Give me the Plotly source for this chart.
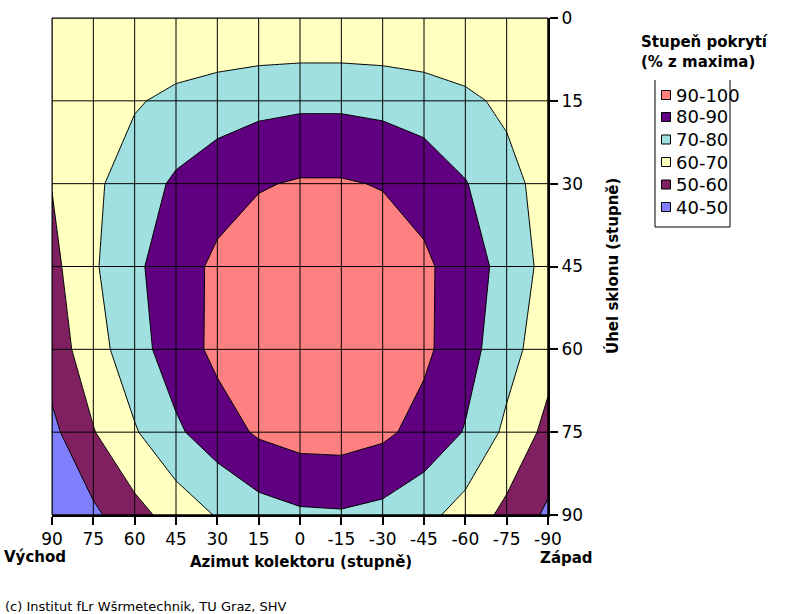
import plotly.graph_objects as go

# ---- data ----
azimuth = [90, 75, 60, 45, 30, 15, 0, -15, -30, -45, -60, -75, -90]
tilt = [0, 15, 30, 45, 60, 75, 90]

cov_t0 = [60.5, 60.5, 60.5, 60.5, 60.5, 60.5, 60.5, 60.5, 60.5, 60.5, 60.5, 60.5, 60.5]
cov_t15 = [62.5, 66.0, 69.0, 72.5, 75.0, 77.0, 78.0, 78.0, 77.0, 75.0, 72.0, 68.0, 64.0]
cov_t30 = [60.3, 68.0, 75.2, 81.5, 85.9, 89.2, 90.9, 90.9, 89.4, 86.2, 80.5, 73.3, 66.0]
cov_t45 = [57.3, 68.7, 78.2, 85.5, 92.0, 96.0, 98.0, 98.0, 96.0, 91.8, 85.0, 76.5, 66.7]
cov_t60 = [54.8, 65.7, 76.2, 85.0, 92.4, 97.3, 99.6, 99.5, 97.0, 92.0, 83.8, 74.1, 63.7]
cov_t75 = [47.6, 59.5, 69.1, 78.4, 85.4, 91.3, 94.0, 94.3, 92.0, 86.5, 79.4, 67.8, 57.2]
cov_t90 = [42.0, 48.0, 56.7, 64.1, 70.7, 75.7, 78.4, 78.9, 77.1, 73.0, 65.9, 57.4, 48.2]

x_tick_labels = ["90", "75", "60", "45", "30", "15", "0", "-15", "-30", "-45", "-60", "-75", "-90"]
y_tick_labels = ["0", "15", "30", "45", "60", "75", "90"]

legend_labels = ["90-100", "80-90", "70-80", "60-70", "50-60", "40-50"]
band_colors = ["#FF8080", "#600080", "#A0E0E0", "#FFFFC0", "#802060", "#8080FF"]
levels_start, levels_end, levels_size = 40, 100, 10

# ---- figure ----
W, H = 803, 614
L, R, T, B = 52, 548, 18, 515  # plot area in pixels
FONT = "DejaVu Sans"


def px(x):
    return (x - L) / (R - L)


def py(y):
    return (B - y) / (B - T)


z = [cov_t0, cov_t15, cov_t30, cov_t45, cov_t60, cov_t75, cov_t90]

# stepped colour scale: bands (below 40, 40-50, ..., 90-100, above 100)
asc = list(reversed(band_colors))
band_list = [asc[0]] + asc + [asc[-1]]
n = len(band_list)
cs = []
for i, c in enumerate(band_list):
    lo = max(0.0, (2 * i - 1) / (2 * (n - 1)))
    hi = min(1.0, (2 * i + 1) / (2 * (n - 1)))
    cs.append([lo, c])
    cs.append([hi, c])

fig = go.Figure()
fig.add_trace(go.Contour(
    x=azimuth, y=tilt, z=z,
    contours=dict(start=levels_start, end=levels_end, size=levels_size,
                  coloring="fill", showlines=True),
    line=dict(color="black", width=1, smoothing=0),
    colorscale=cs, showscale=False, hoverinfo="skip",
))

shapes = []
for a in azimuth:
    shapes.append(dict(type="line", xref="x", yref="paper", x0=a, x1=a, y0=0, y1=1,
                       line=dict(color="black", width=1), layer="above"))
for t in tilt:
    shapes.append(dict(type="line", xref="paper", yref="y", x0=0, x1=1, y0=t, y1=t,
                       line=dict(color="black", width=1), layer="above"))

# legend (manual)
leg_y = [95, 117, 139.5, 162, 184.5, 207]
for lab, col, yy in zip(legend_labels, band_colors, leg_y):
    shapes.append(dict(type="rect", xref="paper", yref="paper",
                       x0=px(661.5), x1=px(670.5), y0=py(yy + 4.5), y1=py(yy - 4.5),
                       fillcolor=col, line=dict(color="black", width=1)))
shapes.append(dict(type="line", xref="paper", yref="paper", x0=px(655), x1=px(655),
                   y0=py(80), y1=py(227), line=dict(color="black", width=1)))
shapes.append(dict(type="line", xref="paper", yref="paper", x0=px(730), x1=px(730),
                   y0=py(80), y1=py(227), line=dict(color="black", width=1)))
shapes.append(dict(type="line", xref="paper", yref="paper", x0=px(655), x1=px(730),
                   y0=py(227), y1=py(227), line=dict(color="black", width=1)))

annotations = []
for lab, yy in zip(legend_labels, leg_y):
    annotations.append(dict(text=lab, xref="paper", yref="paper", x=px(674), y=py(yy),
                            xanchor="left", yanchor="middle", showarrow=False,
                            font=dict(family=FONT, size=18, color="black")))

annotations += [
    dict(text="<b>Stupeň pokrytí<br>(% z maxima)</b>", xref="paper", yref="paper",
         x=px(639), y=py(52), xanchor="left", yanchor="middle", align="left",
         showarrow=False, font=dict(family=FONT, size=15, color="black")),
    dict(text="<b>Azimut kolektoru (stupně)</b>", xref="paper", yref="paper",
         x=px(301), y=py(562), xanchor="center", yanchor="middle", showarrow=False,
         font=dict(family=FONT, size=15, color="black")),
    dict(text="<b>Úhel sklonu (stupně)</b>", xref="paper", yref="paper",
         x=px(612), y=py(266), xanchor="center", yanchor="middle", textangle=-90,
         showarrow=False, font=dict(family=FONT, size=15, color="black")),
    dict(text="<b>Východ</b>", xref="paper", yref="paper", x=px(3), y=py(557),
         xanchor="left", yanchor="middle", showarrow=False, borderpad=0,
         font=dict(family=FONT, size=15, color="black")),
    dict(text="<b>Západ</b>", xref="paper", yref="paper", x=px(539), y=py(558),
         xanchor="left", yanchor="middle", showarrow=False, borderpad=0,
         font=dict(family=FONT, size=15, color="black")),
    dict(text="(c) Institut fLr Wšrmetechnik, TU Graz, SHV", xref="paper", yref="paper",
         x=px(3), y=py(606), xanchor="left", yanchor="middle", showarrow=False,
         font=dict(family=FONT, size=13, color="black")),
]

shapes.append(dict(type="rect", xref="paper", yref="paper", x0=0, x1=1, y0=0, y1=1,
                   line=dict(color="black", width=1), layer="above"))

axis_common = dict(ticks="outside", ticklen=8, tickwidth=2, tickcolor="black",
                   showline=True, linewidth=2, linecolor="black", showgrid=False,
                   zeroline=False, fixedrange=True, ticklabeloverflow="allow",
                   tickfont=dict(family=FONT, size=17, color="black"))

fig.update_layout(
    width=W, height=H,
    margin=dict(l=L, r=W - R, t=T, b=H - B, autoexpand=False),
    paper_bgcolor="white", plot_bgcolor="white",
    xaxis=dict(range=[90, -90], tickvals=azimuth, ticktext=x_tick_labels, **axis_common),
    yaxis=dict(range=[90, 0], tickvals=tilt, ticktext=y_tick_labels, side="right",
               **axis_common),
    shapes=shapes, annotations=annotations, showlegend=False,
)

fig.write_html("out.html", config={"displayModeBar": False},
               post_script="document.body.style.margin='0px';document.body.style.overflow='hidden';")
